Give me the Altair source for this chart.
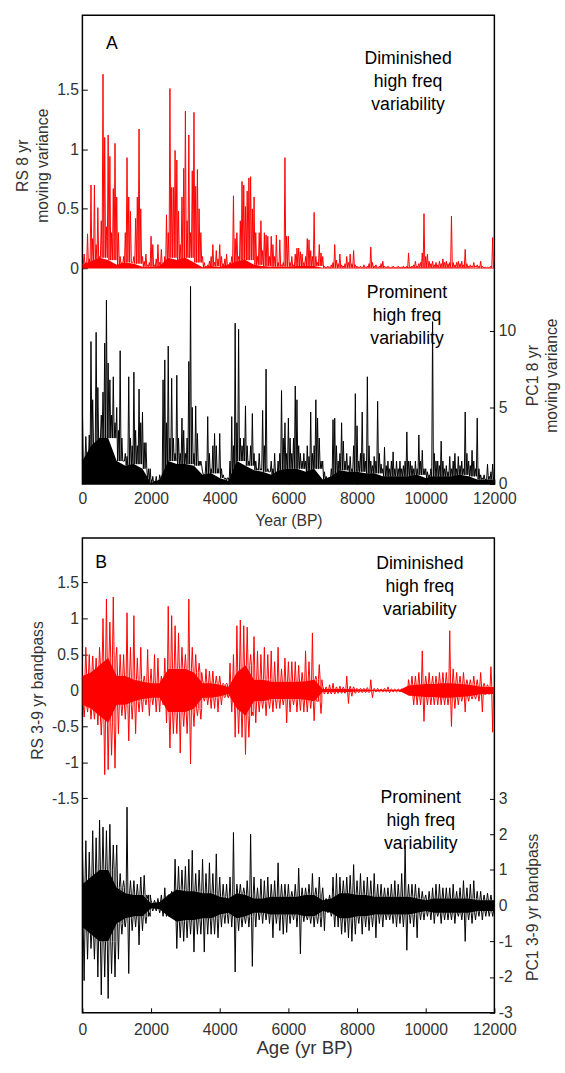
import altair as alt
import pandas as pd

# ---------------- data ----------------
# Panel A: 8-yr moving variance, spike heights every 50 years (0 ... 12000 BP)
red_a = [
    0.03, 0.12, 0.05, 0.29, 0.08, 0.70, 0.25, 0.70, 0.20, 0.51, 0.10, 0.40, 1.63, 1.10, 0.35, 1.12, 0.94, 0.30, 0.67, 1.05,
    0.60, 0.30, 0.10, 0.05, 0.10, 0.30, 0.93, 0.60, 0.48, 0.05, 0.10, 0.42, 0.60, 1.17, 0.50, 0.10, 0.06, 0.12, 0.03, 0.05,
    0.27, 0.20, 0.03, 0.08, 0.20, 0.05, 0.16, 0.03, 0.10, 0.45, 0.30, 1.51, 0.68, 0.68, 0.99, 0.91, 0.48, 0.20, 0.60, 0.84,
    1.32, 0.40, 1.12, 0.30, 0.82, 1.31, 0.69, 0.83, 0.50, 0.30, 0.10, 0.05, 0.02, 0.03, 0.06, 0.10, 0.20, 0.05, 0.15, 0.08,
    0.20, 0.10, 0.04, 0.08, 0.12, 0.03, 0.05, 0.10, 0.61, 0.25, 0.30, 0.10, 0.40, 0.73, 0.70, 0.52, 0.65, 0.76, 0.77, 0.50,
    0.60, 0.30, 0.10, 0.30, 0.40, 0.15, 0.30, 0.28, 0.27, 0.10, 0.27, 0.20, 0.10, 0.28, 0.05, 0.24, 0.03, 0.05, 0.93, 0.27,
    0.27, 0.05, 0.10, 0.03, 0.12, 0.17, 0.17, 0.14, 0.12, 0.05, 0.10, 0.25, 0.24, 0.15, 0.10, 0.47, 0.10, 0.05, 0.20, 0.13,
    0.10, 0.02, 0.01, 0.02, 0.01, 0.03, 0.05, 0.20, 0.07, 0.04, 0.12, 0.03, 0.02, 0.04, 0.10, 0.05, 0.12, 0.04, 0.15, 0.03,
    0.02, 0.01, 0.02, 0.01, 0.03, 0.01, 0.02, 0.04, 0.18, 0.05, 0.02, 0.03, 0.01, 0.02, 0.04, 0.06, 0.02, 0.01, 0.02, 0.01,
    0.01, 0.02, 0.01, 0.01, 0.02, 0.01, 0.01, 0.02, 0.01, 0.02, 0.13, 0.01, 0.02, 0.03, 0.06, 0.02, 0.04, 0.05, 0.13, 0.46,
    0.10, 0.12, 0.06, 0.04, 0.06, 0.03, 0.05, 0.03, 0.06, 0.04, 0.08, 0.05, 0.06, 0.04, 0.05, 0.44, 0.05, 0.03, 0.05, 0.06,
    0.04, 0.06, 0.03, 0.16, 0.04, 0.02, 0.03, 0.02, 0.05, 0.02, 0.03, 0.02, 0.06, 0.02, 0.01, 0.01, 0.01, 0.01, 0.02, 0.26,
    0.10,
]
# level of the dense (solid) part under the spikes, every 250 years
red_a_core = [
    0.03, 0.06, 0.09, 0.07, 0.03, 0.05, 0.04, 0.015, 0.015, 0.02, 0.09, 0.07,
    0.09, 0.05, 0.01, 0.02, 0.015, 0.03, 0.06, 0.07, 0.03, 0.02, 0.015, 0.015,
    0.015, 0.02, 0.02, 0.02, 0.005, 0.005, 0.005, 0.005, 0.005, 0.005, 0.005, 0.005,
    0.005, 0.005, 0.01, 0.01, 0.01, 0.01, 0.01, 0.01, 0.01, 0.01, 0.005, 0.005,
]

black_a = [
    5.0, 1.5, 3.1, 2.0, 3.2, 9.3, 5.5, 2.5, 9.9, 6.3, 3.0, 4.5, 6.0, 9.2, 12.0, 7.9, 6.8, 4.5, 7.0, 4.0,
    5.0, 3.5, 8.7, 3.0, 1.5, 2.0, 1.8, 7.0, 3.0, 2.5, 7.3, 3.5, 2.5, 6.2, 4.0, 4.7, 2.7, 2.7, 0.3, 0.2,
    0.1, 0.5, 0.2, 0.5, 0.1, 0.6, 0.3, 6.8, 8.1, 4.0, 9.0, 3.0, 6.9, 3.0, 2.0, 7.1, 3.0, 2.0, 4.3, 3.5,
    2.0, 3.0, 8.0, 12.9, 5.0, 2.0, 5.1, 3.3, 1.5, 1.5, 0.8, 0.6, 1.5, 4.4, 2.0, 1.0, 2.5, 3.3, 2.5, 1.0,
    3.3, 1.0, 0.6, 0.3, 0.2, 0.4, 1.5, 4.4, 2.5, 10.5, 4.0, 10.1, 3.0, 2.5, 3.0, 5.1, 2.5, 1.5, 2.5, 4.6,
    2.0, 1.5, 1.0, 2.0, 1.0, 4.8, 2.5, 7.5, 1.0, 0.8, 1.5, 1.0, 2.0, 0.8, 1.5, 2.0, 6.1, 3.0, 4.0, 2.0,
    4.3, 3.0, 2.0, 3.0, 6.4, 5.5, 2.5, 2.0, 1.5, 2.0, 1.5, 2.5, 1.8, 4.7, 2.0, 2.5, 5.5, 4.3, 3.0, 1.5,
    1.5, 0.8, 0.5, 0.3, 0.4, 1.0, 4.2, 4.3, 2.5, 1.5, 2.0, 4.0, 2.8, 1.5, 2.0, 1.2, 1.8, 1.0, 2.5, 5.9,
    3.8, 1.5, 2.0, 4.7, 2.0, 1.5, 7.0, 2.5, 1.5, 1.2, 1.8, 1.5, 5.4, 2.0, 1.3, 1.0, 2.4, 1.2, 1.5, 1.0,
    1.5, 2.1, 1.0, 1.5, 1.0, 1.5, 1.0, 1.2, 1.5, 3.4, 1.5, 1.5, 1.2, 1.0, 1.5, 1.0, 3.2, 1.5, 2.2, 1.0,
    1.0, 0.8, 0.6, 1.0, 10.6, 2.0, 1.5, 1.5, 1.2, 2.8, 1.5, 1.0, 1.2, 0.8, 1.8, 1.0, 1.5, 2.0, 1.0, 1.8,
    1.2, 1.5, 1.0, 4.7, 2.0, 1.5, 1.2, 2.2, 1.5, 1.0, 4.3, 1.0, 0.6, 0.4, 0.6, 0.3, 1.3, 0.5, 0.8, 1.3,
    0.5,
]
black_a_core = [
    1.5, 2.5, 3.0, 3.0, 1.5, 1.2, 1.3, 1.0, 0.05, 0.3, 1.5, 1.3,
    1.3, 1.2, 0.6, 0.7, 0.4, 0.2, 1.5, 1.2, 0.9, 0.8, 0.6, 0.9,
    1.0, 1.0, 0.8, 1.0, 0.3, 0.5, 0.9, 0.8, 0.8, 0.7, 0.7, 0.5,
    0.5, 0.5, 0.5, 0.6, 0.4, 0.5, 0.5, 0.5, 0.6, 0.5, 0.3, 0.3,
]

# Panel B: 3-9 yr bandpass, upper / lower extremes per 100-year bin (0 ... 11900 BP)
red_b_hi = [
    0.2, 0.6, 0.5, 0.48, 0.45, 0.6, 1.0, 1.27, 0.95, 1.3,
    0.6, 0.5, 0.5, 1.08, 0.6, 1.04, 0.45, 0.6, 0.2, 0.57,
    0.3, 0.5, 0.45, 0.2, 0.45, 1.17, 1.04, 0.9, 0.8, 0.6,
    0.5, 1.27, 0.6, 0.5, 0.38, 0.15, 0.3, 0.27, 0.27, 0.2,
    0.2, 0.1, 0.1, 0.38, 0.5, 0.9, 0.98, 0.9, 0.88, 0.5,
    0.75, 0.55, 0.5, 0.6, 0.5, 0.55, 0.4, 0.6, 0.3, 0.45,
    0.4, 0.4, 0.4, 0.35, 0.25, 0.55, 0.4, 0.8, 0.2, 0.36,
    0.06, 0.05, 0.08, 0.1, 0.05, 0.06, 0.05, 0.2, 0.06, 0.05,
    0.03, 0.03, 0.03, 0.04, 0.15, 0.03, 0.03, 0.02, 0.03, 0.05,
    0.02, 0.02, 0.02, 0.02, 0.02, 0.15, 0.2, 0.2, 0.25, 0.55,
    0.2, 0.25, 0.2, 0.2, 0.25, 0.25, 0.25, 0.83, 0.3, 0.25,
    0.2, 0.25, 0.15, 0.15, 0.2, 0.15, 0.25, 0.1, 0.08, 0.33,
]
red_b_lo = [
    -0.37, -0.3, -0.4, -0.4, -0.48, -0.62, -1.17, -1.1, -0.9, -1.08,
    -0.6, -0.35, -0.4, -0.7, -0.4, -0.6, -0.3, -0.3, -0.2, -0.35,
    -0.2, -0.3, -0.3, -0.2, -0.45, -0.8, -0.6, -0.6, -0.87, -0.5,
    -0.6, -1.02, -0.5, -0.35, -0.4, -0.15, -0.2, -0.25, -0.25, -0.3,
    -0.2, -0.1, -0.1, -0.3, -0.65, -0.6, -0.65, -0.89, -0.65, -0.3,
    -0.45, -0.3, -0.25, -0.35, -0.25, -0.3, -0.25, -0.25, -0.2, -0.45,
    -0.3, -0.2, -0.3, -0.28, -0.3, -0.3, -0.25, -0.42, -0.15, -0.32,
    -0.05, -0.05, -0.05, -0.05, -0.04, -0.04, -0.04, -0.18, -0.08, -0.04,
    -0.03, -0.03, -0.03, -0.03, -0.1, -0.02, -0.02, -0.02, -0.02, -0.03,
    -0.02, -0.02, -0.02, -0.02, -0.02, -0.05, -0.2, -0.2, -0.2, -0.43,
    -0.2, -0.2, -0.2, -0.2, -0.2, -0.2, -0.2, -0.5, -0.25, -0.2,
    -0.15, -0.3, -0.15, -0.12, -0.12, -0.15, -0.3, -0.05, -0.05, -0.58,
]
# half-width of the solid core band, every 250 years
red_b_core = [
    0.2, 0.25, 0.35, 0.45, 0.2, 0.2, 0.15, 0.12, 0.1, 0.1, 0.3, 0.3,
    0.3, 0.25, 0.1, 0.1, 0.08, 0.05, 0.25, 0.35, 0.15, 0.15, 0.12, 0.12,
    0.12, 0.12, 0.13, 0.15, 0.02, 0.02, 0.02, 0.02, 0.015, 0.015, 0.01, 0.01,
    0.01, 0.01, 0.07, 0.08, 0.09, 0.09, 0.1, 0.1, 0.09, 0.08, 0.06, 0.05,
]

black_b_hi = [
    1.7, 1.82, 1.5, 2.1, 1.9, 2.4, 2.2, 2.1, 2.28, 1.7,
    1.7, 0.9, 0.7, 2.76, 0.7, 0.7, 0.6, 0.8, 0.85, 0.2,
    0.15, 0.15, 0.2, 0.3, 0.5, 0.3, 0.4, 1.3, 1.1, 1.0,
    1.1, 1.3, 1.55, 0.9, 1.0, 1.3, 0.9, 1.2, 0.9, 1.45,
    0.8, 0.6, 0.6, 0.8, 2.05, 0.6, 0.6, 0.5, 0.7, 2.0,
    0.8, 0.5, 0.75, 0.7, 0.8, 0.6, 0.7, 1.2, 0.6, 0.6,
    0.6, 0.4, 0.6, 1.05, 0.5, 0.5, 0.6, 0.9, 0.5, 0.8,
    0.5, 0.2, 0.3, 0.8, 0.9, 0.8, 0.7, 0.8, 0.85, 1.15,
    0.7, 0.9, 0.7, 0.8, 0.7, 0.9, 0.6, 0.6, 0.5, 0.5,
    0.6, 0.7, 0.6, 0.9, 1.7, 0.6, 0.6, 0.6, 0.5, 0.4,
    0.3, 0.4, 0.5, 0.6, 0.6, 0.5, 0.5, 0.5, 0.6, 0.4,
    0.5, 0.7, 0.5, 0.6, 0.7, 0.4, 0.4, 0.3, 0.35, 0.3,
]
black_b_lo = [
    -2.1, -1.5, -1.2, -1.5, -2.0, -2.5, -2.0, -2.6, -1.9, -2.0,
    -1.5, -0.8, -0.6, -1.9, -0.7, -0.6, -1.1, -0.7, -0.5, -0.2,
    -0.15, -0.15, -0.2, -0.3, -0.3, -0.25, -0.3, -1.2, -0.9, -1.0,
    -0.9, -0.8, -1.3, -0.8, -0.8, -1.3, -0.8, -0.8, -0.8, -0.9,
    -0.6, -0.5, -0.5, -0.6, -1.86, -0.7, -0.6, -0.5, -0.6, -1.7,
    -0.6, -0.4, -0.5, -0.4, -0.5, -0.9, -0.5, -0.7, -0.8, -0.75,
    -0.5, -0.4, -0.6, -1.35, -0.45, -0.4, -0.5, -0.6, -0.5, -0.6,
    -0.7, -0.2, -0.3, -0.6, -0.6, -0.8, -0.75, -0.9, -1.0, -0.8,
    -0.5, -0.8, -0.6, -0.7, -0.6, -0.9, -0.5, -0.6, -0.4, -0.4,
    -0.5, -0.6, -0.5, -0.6, -1.25, -0.5, -0.6, -0.9, -0.4, -0.4,
    -0.3, -0.4, -0.5, -0.3, -0.5, -0.4, -0.4, -0.4, -0.5, -0.3,
    -0.4, -1.0, -0.4, -0.5, -0.4, -0.3, -0.4, -0.3, -0.3, -0.3,
]
black_b_core = [
    0.6, 0.8, 1.0, 1.0, 0.5, 0.35, 0.3, 0.3, 0.07, 0.1, 0.3, 0.45,
    0.4, 0.4, 0.35, 0.35, 0.25, 0.2, 0.35, 0.3, 0.2, 0.2, 0.25, 0.25,
    0.25, 0.25, 0.3, 0.3, 0.15, 0.2, 0.35, 0.35, 0.3, 0.3, 0.25, 0.25,
    0.25, 0.25, 0.25, 0.2, 0.15, 0.2, 0.2, 0.2, 0.2, 0.2, 0.15, 0.15,
]

x_ticks = [0, 2000, 4000, 6000, 8000, 10000, 12000]
ticks_a_left = [0, 0.5, 1, 1.5]
ticks_a_right = [0, 5, 10]
ticks_b_left = [-1.5, -1, -0.5, 0, 0.5, 1, 1.5]
ticks_b_right = [-3, -2, -1, 0, 1, 2, 3]

STEP_A = 50
BIN_B = 100
CORE_STEP = 250
END = 12000


# ---------------- tables ----------------
def core_at(core, year):
    return core[min(year // CORE_STEP, len(core) - 1)]


def core_table(core, symmetric):
    rows = []
    for i, c in enumerate(core):
        rows.append({"year": i * CORE_STEP, "v": c, "v2": -c if symmetric else 0.0})
    rows.append({"year": END, "v": core[-1], "v2": -core[-1] if symmetric else 0.0})
    return pd.DataFrame(rows)


def spike_table(peaks, core):
    # each spike rises from the dense core level and falls back to it
    rows = []
    for i, p in enumerate(peaks):
        y = i * STEP_A
        rows.append({"year": y, "v": p})
        if i < len(peaks) - 1:
            rows.append({"year": y + STEP_A // 2, "v": core_at(core, y + STEP_A // 2)})
    df = pd.DataFrame(rows)
    df["idx"] = range(len(df))
    return df


def band_table(hi, lo, core):
    # upward spike to hi, back to the core band, downward spike to lo, back to the core band
    rows = []
    q = BIN_B // 4
    for i, (h, l) in enumerate(zip(hi, lo)):
        y = i * BIN_B
        c1 = core_at(core, y + q)
        c2 = core_at(core, y + 3 * q)
        rows += [
            {"year": y, "v": h},
            {"year": y + q, "v": c1}, {"year": y + q, "v": -c1},
            {"year": y + 2 * q, "v": l},
            {"year": y + 3 * q, "v": -c2}, {"year": y + 3 * q, "v": c2},
        ]
    df = pd.DataFrame(rows)
    df["idx"] = range(len(df))
    return df


ra_spk, ra_core = spike_table(red_a, red_a_core), core_table(red_a_core, False)
ka_spk, ka_core = spike_table(black_a, black_a_core), core_table(black_a_core, False)
rb_spk, rb_core = band_table(red_b_hi, red_b_lo, red_b_core), core_table(red_b_core, True)
kb_spk, kb_core = band_table(black_b_hi, black_b_lo, black_b_core), core_table(black_b_core, True)

# ---------------- styling ----------------
FONT = "Liberation Sans"
LAB = "#333333"
RED = "#ff0000"
BLACK = "#000000"
W = 420
H_A = 478
H_B = 484


def common_axis(**kw):
    base = dict(
        labelExpr="'' + datum.value",
        labelFont=FONT, labelFontSize=16, labelColor=LAB,
        labelFlush=False, labelOverlap=False,
        titleFont=FONT, titleFontWeight="normal", titleColor=LAB,
        domain=False, grid=False, ticks=True, tickSize=5, offset=-5,
        tickColor=BLACK, tickWidth=1,
    )
    base.update(kw)
    return alt.Axis(**base)


def x_enc(title, title_size, label_pad, title_pad, title_x):
    return alt.X(
        "year:Q",
        scale=alt.Scale(domain=[0, END], nice=False, zero=False),
        axis=common_axis(values=x_ticks, title=title, titleFontSize=title_size,
                         labelPadding=label_pad, titlePadding=title_pad, titleX=title_x),
    )


def y_enc(domain, ticks, orient, title, tx, ty, lh=20):
    return alt.Y(
        "v:Q",
        scale=alt.Scale(domain=domain, nice=False, zero=False),
        axis=common_axis(values=ticks, orient=orient, title=title, titleFontSize=16,
                         labelPadding=4, titleAngle=-90, titleAlign="center",
                         titleBaseline="top", titleX=tx, titleY=ty, titleLineHeight=lh),
    )


def note(text, x, y, size=18):
    return alt.Chart(alt.Data(values=[{"k": 1}])).mark_text(
        font=FONT, fontSize=size, color=BLACK, align="center", baseline="middle",
        lineHeight=23.5, text=text,
    ).encode(x=alt.value(x), y=alt.value(y))


def series(spk_df, core_df, color, x, y):
    return alt.layer(
        alt.Chart(core_df).mark_area(color=color, opacity=1, clip=True).encode(x=x, y=y, y2="v2:Q"),
        alt.Chart(spk_df).mark_line(color=color, strokeWidth=1.0, clip=True).encode(
            x=x, y=y, order=alt.Order("idx:Q")),
    )


# ---------------- panel A ----------------
xA = x_enc("Year (BP)", 16, 7, 6, W / 2)
yRA = y_enc([-1.81, 2.126], ticks_a_left, "left", ["RS 8 yr", "moving variance"], -73.5, 153)
yKA = y_enc([0, 30.6], ticks_a_right, "right", ["PC1 8 yr", "moving variance"], 36, 367, 19)

panel_a = alt.layer(
    series(ra_spk, ra_core, RED, xA, yRA),
    series(ka_spk, ka_core, BLACK, xA, yKA),
    note("A", 30, 29),
    note(["Diminished", "high freq", "variability"], 332, 44.5),
    note(["Prominent", "high freq", "variability"], 331, 283),
).resolve_scale(y="independent").properties(width=W, height=H_A)

# ---------------- panel B ----------------
xB = x_enc("Age (yr BP)", 19, 9, 2, 226)
yRB = y_enc([-4.48, 2.12], ticks_b_left, "left", "RS 3-9 yr bandpass", -59, 155)
yKB = y_enc([-3, 10.3], ticks_b_right, "right", "PC1 3-9 yr bandpass", 36, 376)

panel_b = alt.layer(
    series(rb_spk, rb_core, RED, xB, yRB),
    series(kb_spk, kb_core, BLACK, xB, yKB),
    note("B", 19, 26),
    note(["Diminished", "high freq", "variability"], 344, 26.5),
    note(["Prominent", "high freq", "variability"], 345, 265),
).resolve_scale(y="independent").properties(width=W, height=H_B)

chart = (
    alt.vconcat(panel_a, panel_b, spacing=8)
    .properties(padding={"left": 14, "top": 4, "right": 5, "bottom": 5}, background="white")
    .configure_view(stroke=BLACK, strokeWidth=1.5)
)

chart.save("out.html", embed_options={"renderer": "svg", "actions": False})
